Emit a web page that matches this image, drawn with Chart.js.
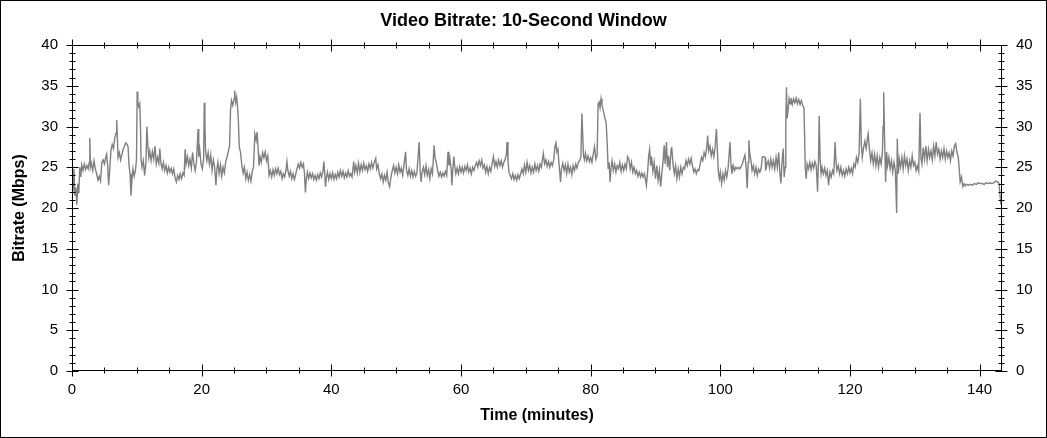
<!DOCTYPE html>
<html>
<head>
<meta charset="utf-8">
<script src="https://cdn.jsdelivr.net/npm/chart.js@4.4.0/dist/chart.umd.min.js"></script>
<style>
  body { margin: 0; background: #fff; }
  #wrap { width: 1047px; height: 438px; }
</style>
</head>
<body>
<div id="wrap"><canvas id="bitrateChart" width="1047" height="438"></canvas></div>
<script>
/* Video bitrate chart */
const TITLE = 'Video Bitrate: 10-Second Window';
const X_TITLE = 'Time (minutes)';
const Y_TITLE = 'Bitrate (Mbps)';
const X_TICKS = [0, 20, 40, 60, 80, 100, 120, 140];
const Y_TICKS = [0, 5, 10, 15, 20, 25, 30, 35, 40];
const X_MAX = 143.45;

// minutes
const timeMin = [
  0.0, 0.15, 0.3, 0.45, 0.6, 0.75, 0.9, 1.05, 1.2, 1.35, 1.5, 1.7, 1.9, 2.1, 2.3, 2.5, 2.65, 2.75, 2.85, 3.0,
  3.2, 3.4, 3.6, 3.8, 4.0, 4.2, 4.4, 4.6, 4.8, 5.0, 5.2, 5.35, 5.5, 5.65, 5.8, 6.0, 6.2, 6.4, 6.6, 6.8,
  6.9, 7.0, 7.1, 7.3, 7.5, 7.7, 7.9, 8.1, 8.3, 8.5, 8.65, 8.8, 8.95, 9.1, 9.25, 9.4, 9.6, 9.8, 9.95, 10.05,
  10.15, 10.3, 10.45, 10.55, 10.65, 10.8, 11.0, 11.2, 11.4, 11.55, 11.7, 11.85, 12.0, 12.2, 12.4, 12.6, 12.8, 13.0, 13.2, 13.4,
  13.55, 13.7, 13.9, 14.1, 14.3, 14.5, 14.7, 14.9, 15.1, 15.3, 15.5, 15.7, 15.9, 16.1, 16.3, 16.5, 16.7, 16.9, 17.1, 17.3,
  17.45, 17.6, 17.8, 18.0, 18.2, 18.4, 18.6, 18.8, 19.0, 19.2, 19.45, 19.55, 19.7, 19.9, 20.1, 20.3, 20.4, 20.5, 20.6, 20.8,
  21.0, 21.2, 21.4, 21.6, 21.8, 22.0, 22.2, 22.35, 22.5, 22.7, 22.9, 23.1, 23.3, 23.5, 23.7, 23.9, 24.1, 24.3, 24.45, 24.6,
  24.8, 25.0, 25.1, 25.25, 25.4, 25.55, 25.65, 25.8, 26.0, 26.2, 26.4, 26.6, 26.8, 27.0, 27.2, 27.4, 27.6, 27.8, 28.0, 28.2,
  28.4, 28.55, 28.7, 28.85, 29.0, 29.2, 29.4, 29.6, 29.8, 30.0, 30.2, 30.4, 30.6, 30.8, 31.0, 31.2, 31.4, 31.6, 31.8, 32.0,
  32.2, 32.4, 32.6, 32.8, 33.0, 33.15, 33.3, 33.5, 33.7, 33.9, 34.1, 34.3, 34.5, 34.7, 34.9, 35.1, 35.3, 35.5, 35.7, 35.85,
  36.0, 36.15, 36.3, 36.5, 36.7, 36.9, 37.1, 37.3, 37.5, 37.7, 37.9, 38.1, 38.3, 38.5, 38.7, 38.85, 39.0, 39.1, 39.25, 39.4,
  39.6, 39.8, 40.0, 40.2, 40.4, 40.6, 40.8, 41.0, 41.2, 41.4, 41.6, 41.8, 42.0, 42.2, 42.4, 42.6, 42.8, 43.0, 43.2, 43.45,
  43.6, 43.8, 44.0, 44.2, 44.4, 44.6, 44.8, 45.0, 45.2, 45.4, 45.6, 45.8, 46.0, 46.2, 46.4, 46.6, 46.85, 47.0, 47.2, 47.4,
  47.6, 47.8, 48.0, 48.2, 48.4, 48.6, 48.8, 49.0, 49.2, 49.4, 49.6, 49.8, 50.0, 50.2, 50.4, 50.6, 50.8, 51.0, 51.2, 51.45,
  51.6, 51.8, 52.0, 52.2, 52.4, 52.6, 52.8, 53.0, 53.2, 53.55, 53.7, 53.85, 54.0, 54.2, 54.4, 54.6, 54.8, 55.0, 55.2, 55.4,
  55.6, 55.85, 56.0, 56.2, 56.4, 56.6, 56.8, 57.0, 57.2, 57.4, 57.6, 57.8, 58.0, 58.15, 58.3, 58.5, 58.6, 58.75, 58.9, 59.05,
  59.2, 59.4, 59.6, 59.8, 60.0, 60.2, 60.4, 60.6, 60.8, 61.0, 61.2, 61.4, 61.6, 61.8, 62.0, 62.2, 62.4, 62.6, 62.8, 63.0,
  63.2, 63.4, 63.6, 63.8, 64.0, 64.2, 64.4, 64.6, 64.8, 65.0, 65.2, 65.4, 65.6, 65.8, 66.0, 66.2, 66.4, 66.6, 66.8, 67.0,
  67.1, 67.25, 67.4, 67.6, 67.8, 68.0, 68.2, 68.4, 68.6, 68.8, 69.0, 69.2, 69.4, 69.6, 69.8, 70.0, 70.2, 70.4, 70.6, 70.8,
  71.0, 71.2, 71.4, 71.6, 71.8, 72.0, 72.2, 72.4, 72.7, 72.9, 73.1, 73.3, 73.5, 73.7, 73.9, 74.1, 74.3, 74.5, 74.65, 74.8,
  74.95, 75.1, 75.25, 75.35, 75.5, 75.7, 75.9, 76.1, 76.3, 76.5, 76.7, 76.9, 77.1, 77.3, 77.5, 77.7, 77.9, 78.1, 78.3, 78.5,
  78.65, 78.75, 78.9, 79.05, 79.2, 79.4, 79.6, 79.8, 80.0, 80.2, 80.4, 80.6, 80.8, 81.0, 81.15, 81.3, 81.45, 81.6, 81.75, 81.9,
  82.05, 82.2, 82.4, 82.55, 82.7, 82.85, 83.0, 83.15, 83.3, 83.5, 83.7, 83.9, 84.1, 84.3, 84.5, 84.7, 84.9, 85.1, 85.3, 85.5,
  85.7, 85.9, 86.1, 86.3, 86.5, 86.7, 86.9, 87.1, 87.3, 87.5, 87.7, 87.9, 88.1, 88.3, 88.6, 88.8, 88.95, 89.1, 89.25, 89.4,
  89.6, 89.8, 90.0, 90.2, 90.4, 90.6, 90.8, 91.0, 91.2, 91.35, 91.5, 91.7, 91.85, 92.0, 92.2, 92.4, 92.5, 92.7, 92.9, 93.1,
  93.3, 93.5, 93.7, 93.9, 94.1, 94.3, 94.5, 94.7, 94.9, 95.1, 95.3, 95.5, 95.7, 95.9, 96.1, 96.3, 96.5, 96.7, 96.9, 97.1,
  97.3, 97.5, 97.7, 97.9, 98.05, 98.2, 98.4, 98.6, 98.8, 99.0, 99.2, 99.4, 99.55, 99.7, 99.85, 100.0, 100.2, 100.4, 100.6, 100.8,
  101.0, 101.2, 101.5, 101.65, 101.8, 102.0, 102.2, 102.4, 102.6, 102.8, 103.0, 103.2, 103.4, 103.6, 103.8, 104.0, 104.15, 104.3, 104.4, 104.55,
  104.7, 104.9, 105.1, 105.3, 105.5, 105.7, 105.9, 106.1, 106.3, 106.5, 106.7, 106.9, 107.0, 107.2, 107.4, 107.6, 107.8, 108.0, 108.2, 108.4,
  108.6, 108.8, 109.0, 109.2, 109.35, 109.5, 109.7, 109.85, 110.0, 110.1, 110.2, 110.3, 110.45, 110.6, 110.75, 110.9, 111.1, 111.3, 111.5, 111.7,
  111.9, 112.1, 112.3, 112.5, 112.7, 112.9, 113.0, 113.1, 113.25, 113.4, 113.6, 113.8, 114.0, 114.2, 114.4, 114.6, 114.8, 115.0, 115.15, 115.25,
  115.4, 115.55, 115.7, 115.9, 116.1, 116.3, 116.5, 116.7, 116.9, 117.1, 117.3, 117.5, 117.7, 117.85, 118.0, 118.2, 118.4, 118.6, 118.8, 119.0,
  119.2, 119.4, 119.6, 119.8, 120.0, 120.2, 120.4, 120.6, 120.8, 121.0, 121.2, 121.4, 121.6, 121.75, 121.9, 122.1, 122.3, 122.5, 122.7, 122.8,
  123.0, 123.2, 123.4, 123.6, 123.8, 124.0, 124.2, 124.4, 124.6, 124.8, 125.0, 125.1, 125.2, 125.35, 125.5, 125.65, 125.8, 126.0, 126.2, 126.4,
  126.6, 126.8, 127.0, 127.2, 127.3, 127.45, 127.6, 127.8, 128.0, 128.2, 128.4, 128.6, 128.8, 129.0, 129.2, 129.4, 129.6, 129.8, 130.0, 130.2,
  130.4, 130.6, 130.8, 130.95, 131.1, 131.3, 131.5, 131.7, 131.9, 132.1, 132.3, 132.5, 132.7, 132.9, 133.1, 133.3, 133.5, 133.7, 133.9, 134.1,
  134.3, 134.5, 134.7, 134.9, 135.1, 135.3, 135.5, 135.7, 135.9, 136.1, 136.3, 136.5, 136.7, 136.85, 137.0, 137.2, 137.4, 137.6, 137.8, 138.0,
  138.3, 138.6, 138.9, 139.2, 139.5, 139.8, 140.1, 140.4, 140.7, 141.0, 141.3, 141.6, 141.9, 142.2, 142.5, 142.8, 143.0, 143.15, 143.3
];

// Mbps
const bitrateMbps = [
  23.5, 22.0, 24.8, 21.5, 22.5, 20.4, 23.0, 21.8, 25.0, 23.8, 25.3, 24.6, 25.4, 24.7, 25.2, 24.8, 25.6, 28.6, 25.0, 25.5,
  24.6, 25.8, 24.8, 24.2, 23.4, 23.9, 23.3, 25.6, 25.9, 25.4, 26.2, 26.6, 25.2, 22.8, 24.5, 27.0, 27.8, 27.3, 28.6, 29.2,
  30.8, 28.5, 26.2, 26.8, 25.9, 26.6, 27.2, 27.6, 28.0, 27.8, 27.5, 25.2, 24.2, 21.5, 23.5, 24.8, 23.9, 24.7, 26.0, 34.3,
  33.0, 32.4, 32.8, 30.5, 26.0, 25.0, 25.8, 24.0, 25.5, 30.0, 27.6, 26.2, 27.0, 25.8, 26.9, 26.0, 27.6, 25.4, 26.2, 25.5,
  27.3, 25.6, 24.8, 25.6, 24.6, 25.2, 24.3, 25.0, 24.4, 24.9, 24.2, 24.8, 23.7, 23.2, 24.0, 23.5, 24.2, 23.6, 24.3, 24.0,
  27.2, 25.4, 26.3, 25.2, 26.0, 24.9, 26.8, 25.4, 24.6, 25.7, 29.7, 26.3, 27.2, 25.4, 24.8, 26.0, 32.9, 30.5, 27.0, 25.8,
  26.8, 25.4, 26.5, 24.6, 25.9, 25.0, 22.8, 24.8, 25.6, 24.2, 25.3, 23.9, 25.0, 24.3, 25.6, 26.2, 26.9, 27.6, 32.0, 33.2,
  32.6, 33.4, 34.4, 33.0, 33.6, 32.2, 31.0, 27.5, 26.8, 25.2, 24.3, 25.0, 23.6, 24.4, 23.4, 24.1, 23.3, 24.5, 25.0, 29.1,
  28.3, 29.3, 27.5, 25.2, 26.3, 25.6, 26.8, 26.2, 26.9, 25.8, 26.4, 24.0, 24.6, 23.8, 24.7, 24.0, 24.8, 24.2, 24.9, 24.1,
  24.5, 23.6, 24.2, 23.8, 24.6, 25.7, 24.6, 23.9, 24.5, 23.6, 24.2, 23.5, 24.1, 24.8, 25.4, 24.9, 25.6, 25.0, 25.4, 24.3,
  21.9, 23.6, 24.4, 23.6, 24.3, 23.7, 24.2, 23.5, 24.0, 23.4, 24.1, 23.6, 24.3, 23.8, 24.5, 25.7, 24.0, 22.6, 23.8, 24.4,
  23.5, 24.2, 23.6, 24.3, 23.5, 24.1, 23.6, 24.4, 23.8, 24.6, 23.9, 24.5, 23.7, 24.3, 23.8, 24.6, 23.9, 24.2, 23.8, 25.7,
  24.4, 25.2, 24.3, 25.5, 24.4, 25.3, 24.6, 25.5, 24.7, 25.2, 24.5, 25.4, 24.8, 25.6, 24.9, 25.5, 26.1, 24.8, 25.3, 24.2,
  23.6, 24.2, 23.2, 24.0, 23.4, 24.4, 23.1, 22.6, 23.8, 24.6, 25.2, 24.3, 25.0, 24.2, 25.3, 24.4, 24.9, 24.0, 25.2, 26.9,
  24.6, 24.0, 24.8, 23.9, 24.6, 23.8, 24.5, 23.9, 24.3, 28.1, 24.6, 23.2, 24.4, 25.0, 24.1, 25.2, 24.0, 24.7, 23.6, 24.8,
  24.2, 27.7, 26.2, 25.5, 24.6, 23.9, 24.4, 23.8, 24.3, 23.9, 24.5, 24.0, 26.9, 25.2, 26.0, 24.6, 22.8, 24.9, 26.3, 25.0,
  24.2, 24.9, 24.2, 25.1, 24.4, 25.0, 24.3, 25.1, 24.6, 25.3, 24.4, 24.9, 24.2, 25.0, 24.6, 25.2, 25.6, 25.0, 25.8, 25.2,
  25.9, 24.9, 25.3, 24.4, 25.1, 24.2, 25.0, 24.5, 25.4, 26.3, 25.1, 25.7, 25.0, 25.9, 25.2, 25.8, 25.0, 25.6, 25.9, 26.6,
  28.1, 25.8, 24.4, 24.0, 23.6, 24.2, 23.5, 24.0, 23.4, 24.1, 23.6, 24.2, 24.8, 24.2, 25.3, 24.4, 25.6, 24.6, 25.2, 24.3,
  25.0, 24.4, 25.4, 24.6, 25.2, 24.5, 25.4, 25.0, 26.7, 25.4, 25.9, 25.1, 25.7, 25.0, 25.6, 25.2, 25.9, 27.6, 28.0, 26.9,
  27.2, 25.6, 24.2, 23.2, 24.8, 25.5, 24.6, 25.3, 24.2, 25.4, 24.4, 25.0, 24.1, 25.2, 24.6, 25.4, 24.9, 25.6, 25.8, 26.3,
  31.6, 29.5, 26.4, 25.9, 26.7, 25.8, 26.4, 25.7, 26.2, 25.6, 26.6, 27.5, 26.0, 26.5, 32.8, 33.0, 32.3, 33.4, 32.6, 32.1,
  31.6, 31.0, 30.4, 28.0, 24.8, 25.6, 23.2, 25.0, 25.8, 24.6, 25.4, 24.4, 25.2, 24.8, 25.6, 24.5, 25.3, 24.6, 25.4, 24.8,
  26.3, 26.0, 24.8, 25.6, 24.4, 25.0, 24.2, 24.6, 23.9, 24.4, 23.8, 24.3, 23.8, 24.2, 22.8, 24.6, 26.4, 27.2, 25.2, 26.3,
  24.5, 25.6, 23.6, 25.2, 23.4, 24.6, 22.6, 24.4, 26.0, 27.7, 25.4, 28.1, 25.0, 26.4, 24.6, 27.2, 27.5, 25.4, 24.2, 25.2,
  23.6, 24.8, 23.8, 25.0, 24.2, 25.0, 24.8, 25.8, 25.2, 26.0, 25.4, 26.1, 25.2, 24.4, 24.8, 24.2, 24.7, 24.6, 25.4, 26.2,
  25.8, 26.8, 26.3, 27.4, 28.9, 27.0, 27.6, 26.4, 27.2, 26.3, 27.5, 29.7, 27.0, 24.4, 23.6, 24.4, 23.0, 24.2, 23.4, 24.6,
  23.8, 24.9, 28.1, 25.2, 24.2, 25.2, 24.6, 25.0, 24.8, 25.0, 24.8, 25.1, 25.4, 26.0, 26.5, 24.8, 22.4, 25.6, 28.3, 26.6,
  26.0, 24.6, 25.2, 24.2, 25.0, 24.0, 24.8, 24.4, 24.9, 26.3, 26.3, 26.2, 24.6, 25.4, 25.8, 24.9, 26.0, 25.0, 25.8, 24.8,
  26.2, 25.0, 26.8, 24.2, 23.0, 25.4, 27.3, 23.8, 25.0, 30.0, 34.8, 31.0, 32.0, 33.4, 32.8, 33.5, 32.7, 33.4, 32.9, 33.5,
  32.8, 33.3, 32.7, 33.2, 32.6, 32.3, 29.0, 25.0, 23.6, 25.4, 24.8, 25.6, 24.7, 25.5, 24.9, 25.7, 25.2, 22.0, 26.0, 31.3,
  26.0, 24.2, 25.0, 24.2, 24.9, 24.0, 24.6, 22.8, 24.4, 23.8, 24.6, 24.2, 28.1, 25.6, 24.6, 25.2, 24.2, 25.0, 24.0, 24.6,
  23.9, 24.8, 24.2, 25.0, 24.3, 24.9, 24.2, 25.4, 25.0, 26.2, 25.6, 26.6, 33.4, 27.8, 26.2, 27.4, 28.2, 27.3, 28.6, 29.1,
  27.2, 25.8, 26.8, 25.4, 26.6, 25.2, 26.4, 25.0, 26.2, 25.4, 26.8, 30.0, 34.2, 28.0, 23.2, 26.9, 25.2, 26.2, 24.8, 25.8,
  24.4, 25.6, 24.6, 19.4, 28.5, 24.2, 26.0, 25.0, 26.2, 24.8, 26.4, 25.2, 26.0, 24.6, 25.8, 25.0, 26.4, 25.2, 25.6, 24.6,
  25.2, 24.5, 31.7, 26.1, 25.4, 27.4, 26.0, 27.6, 25.8, 27.2, 26.2, 27.0, 25.9, 27.6, 26.4, 28.1, 26.6, 27.2, 26.0, 27.0,
  26.2, 27.3, 26.0, 27.0, 26.2, 26.8, 25.8, 27.0, 26.4, 27.6, 27.9, 26.8, 26.3, 24.8, 23.2, 23.8, 22.6, 23.0, 22.7, 22.9,
  22.8, 22.9, 22.8, 23.0, 22.9, 23.1, 23.0, 23.0, 22.9, 23.1, 23.0, 23.1, 23.0, 23.1, 23.3, 23.2, 23.0, 21.5, 20.4
];

const FONT = '"Liberation Sans", Arial, sans-serif';

// frame around the canvas and the plot, plus major/minor tick marks on all four sides
const framePlugin = {
  id: 'frame',
  afterDraw(chart) {
    const { ctx, chartArea: a, scales: { x, y } } = chart;
    const L = a.left + 0.5, R = a.right - 0.5, T = a.top + 0.5, B = a.bottom - 0.5;
    ctx.save();
    ctx.strokeStyle = '#000';
    ctx.lineWidth = 1;
    ctx.strokeRect(0.5, 0.5, chart.width - 1, chart.height - 1);
    ctx.strokeRect(L, T, R - L, B - T);
    ctx.beginPath();
    for (let v = 0; v <= 40; v++) {
      const py = Math.round(y.getPixelForValue(v)) + 0.5;
      const len = v % 5 === 0 ? 6 : 3;
      ctx.moveTo(L - len, py); ctx.lineTo(L + len, py);
      ctx.moveTo(R - len, py); ctx.lineTo(R + len, py);
    }
    for (let t = 0; t <= 140; t += 5) {
      const px = Math.round(x.getPixelForValue(t)) + 0.5;
      const len = t % 20 === 0 ? 6 : 3;
      ctx.moveTo(px, B - len); ctx.lineTo(px, B + len);
      ctx.moveTo(px, T - len); ctx.lineTo(px, T + len);
    }
    ctx.stroke();
    ctx.restore();
  }
};

const yAxis = (pos, width) => ({
  type: 'linear',
  position: pos,
  min: 0,
  max: 40,
  afterBuildTicks: s => { s.ticks = Y_TICKS.map(v => ({ value: v })); },
  afterFit: s => { s.width = width; },
  grid: { display: false, drawTicks: false },
  border: { display: false },
  ticks: { color: '#000', padding: 14, font: { family: FONT, size: 15 } },
});

new Chart(document.getElementById('bitrateChart'), {
  type: 'line',
  data: {
    datasets: [{
      data: timeMin.map((t, i) => ({ x: t, y: bitrateMbps[i] })),
      borderColor: '#808080',
      borderWidth: 1.4,
      pointRadius: 0,
      tension: 0,
    }]
  },
  options: {
    responsive: false,
    animation: false,
    events: [],
    layout: { padding: 0 },
    plugins: {
      legend: { display: false },
      tooltip: { enabled: false },
      title: {
        display: true,
        text: TITLE,
        color: '#000',
        font: { family: FONT, size: 18, weight: 'bold' },
        padding: { top: 10, bottom: 13.4 },
      },
    },
    scales: {
      x: {
        type: 'linear',
        min: 0,
        max: X_MAX,
        afterBuildTicks: s => { s.ticks = X_TICKS.map(v => ({ value: v })); },
        afterFit: s => { s.height = 67; },
        grid: { display: false, drawTicks: false },
        border: { display: false },
        ticks: { color: '#000', padding: 10, maxRotation: 0, font: { family: FONT, size: 15 } },
        title: { display: true, text: X_TITLE, color: '#000', padding: { top: 0, bottom: 13 }, font: { family: FONT, size: 16, weight: 'bold' } },
      },
      y: Object.assign(yAxis('left', 72), {
        title: { display: true, text: Y_TITLE, color: '#000', padding: { top: 10, bottom: 0 }, font: { family: FONT, size: 16, weight: 'bold' } },
      }),
      y2: yAxis('right', 45),
    }
  },
  plugins: [framePlugin]
});
</script>
</body>
</html>
